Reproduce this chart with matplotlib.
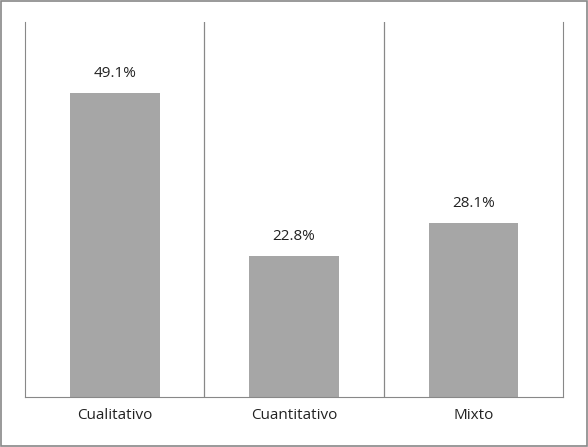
import matplotlib
matplotlib.use("Agg")
import matplotlib.pyplot as plt

categories = ["Cualitativo", "Cuantitativo", "Mixto"]
values = [49.1, 22.8, 28.1]
labels = ["49.1%", "22.8%", "28.1%"]

fig = plt.figure(figsize=(5.88, 4.47), dpi=100)
fig.patches.append(plt.Rectangle((0.002, 0.002), 0.996, 0.996, transform=fig.transFigure,
                                 fill=False, edgecolor="#888888", linewidth=1.2))
ax = fig.add_axes([25/588, 50/447, 538/588, 375/447])
x = range(len(categories))
ax.bar(x, values, width=0.5, color="#a6a6a6", zorder=2)
for xi, v, l in zip(x, values, labels):
    ax.text(xi, v + 2, l, ha="center", va="bottom", fontsize=11, family="Open Sans", color="#222222")
ax.set_xlim(-0.5, 2.5)
ax.set_ylim(0, 60.6)
ax.set_xticks(list(x))
ax.set_xticklabels(categories, fontsize=11, family="Open Sans", color="#222222")
ax.tick_params(axis="x", length=0, pad=8)
ax.set_yticks([])
for b in [0.5, 1.5]:
    ax.axvline(b, color="#888888", linewidth=0.9, zorder=1)
for s in ["top", "right"]:
    ax.spines[s].set_visible(False)
ax.spines["left"].set_color("#888888")
ax.spines["bottom"].set_color("#888888")
ax.spines["right"].set_visible(True)
ax.spines["right"].set_color("#888888")
fig.savefig("out.png", dpi=100)
